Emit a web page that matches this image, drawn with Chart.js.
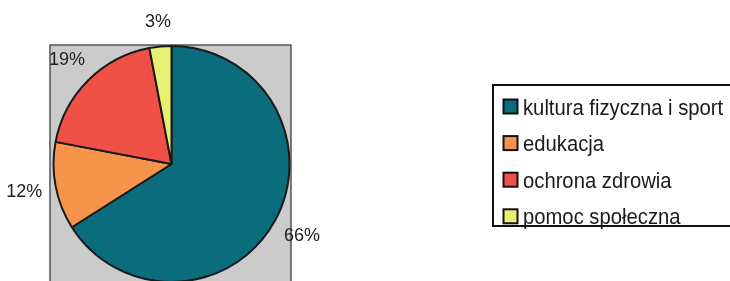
<!DOCTYPE html>
<html lang="pl">
  <head>
    <meta charset="UTF-8" />
    <script src="https://cdn.jsdelivr.net/npm/chart.js"></script>
    <title>Wydatki</title>
    <style>
      body { margin: 0; background: #fff; overflow: hidden; }
    </style>
  </head>
  <body>
    <div style="width: 730px; height: 300px">
      <canvas id="myChart"></canvas>
    </div>
    <script>
      const labels = ["kultura fizyczna i sport", "edukacja", "ochrona zdrowia", "pomoc społeczna"];
      const values = [66, 12, 19, 3];
      const colors = ["#0b6c7b", "#f7944b", "#f05146", "#e8f072"];

      // grey plot area behind the pie
      const plotArea = {
        id: "plotArea",
        beforeDraw(chart) {
          const { ctx, chartArea } = chart;
          ctx.save();
          ctx.fillStyle = "#cbcbcb";
          ctx.fillRect(chartArea.left - 2.5, chartArea.top, chartArea.width + 3, chartArea.height + 20);
          ctx.strokeStyle = "#555";
          ctx.lineWidth = 1.5;
          ctx.strokeRect(chartArea.left - 2.5, chartArea.top, chartArea.width + 3, chartArea.height + 20);
          ctx.restore();
        },
      };

      // percentage labels outside the slices
      const pctLabels = {
        id: "pctLabels",
        afterDatasetsDraw(chart) {
          const { ctx } = chart;
          const arcs = chart.getDatasetMeta(0).data;
          ctx.save();
          ctx.font = '18px "Liberation Sans"';
          ctx.fillStyle = "#1e1e1e";
          ctx.textAlign = "center";
          ctx.textBaseline = "middle";
          arcs.forEach((arc, i) => {
            const p = arc.getProps(["x", "y", "startAngle", "endAngle", "outerRadius"], true);
            const a = (p.startAngle + p.endAngle) / 2;
            const d = p.outerRadius + 24 + 8 * Math.abs(Math.cos(a));
            ctx.fillText(values[i] + "%", p.x + Math.cos(a) * d, p.y + Math.sin(a) * d);
          });
          ctx.restore();
        },
      };

      // boxed legend on the right
      const boxLegend = {
        id: "boxLegend",
        afterDraw(chart) {
          const { ctx } = chart;
          ctx.save();
          ctx.strokeStyle = "#111";
          ctx.lineWidth = 2;
          ctx.strokeRect(493, 85, 250, 141);
          labels.forEach((l, i) => {
            const y = 106.5 + i * 36.6;
            ctx.fillStyle = colors[i];
            ctx.fillRect(503.5, y - 7, 14, 14);
            ctx.strokeStyle = "#111";
            ctx.lineWidth = 2;
            ctx.strokeRect(503.5, y - 7, 14, 14);
            ctx.save();
            ctx.translate(523, y + 8);
            ctx.scale(0.92, 1);
            ctx.font = '22px "Liberation Sans"';
            ctx.fillStyle = "#1a1a1a";
            ctx.fillText(l, 0, 0);
            ctx.restore();
          });
          ctx.restore();
        },
      };

      const config = {
        type: "pie",
        data: {
          labels,
          datasets: [
            {
              data: values,
              backgroundColor: colors,
              borderColor: "#1a1a1a",
              borderWidth: 2,
            },
          ],
        },
        options: {
          responsive: true,
          maintainAspectRatio: false,
          animation: false,
          layout: { padding: { left: 52.5, right: 439.5, top: 45, bottom: 17 } },
          plugins: { legend: { display: false }, tooltip: { enabled: false } },
        },
        plugins: [plotArea, pctLabels, boxLegend],
      };
      var myChart = new Chart(document.getElementById("myChart"), config);
    </script>
  </body>
</html>
